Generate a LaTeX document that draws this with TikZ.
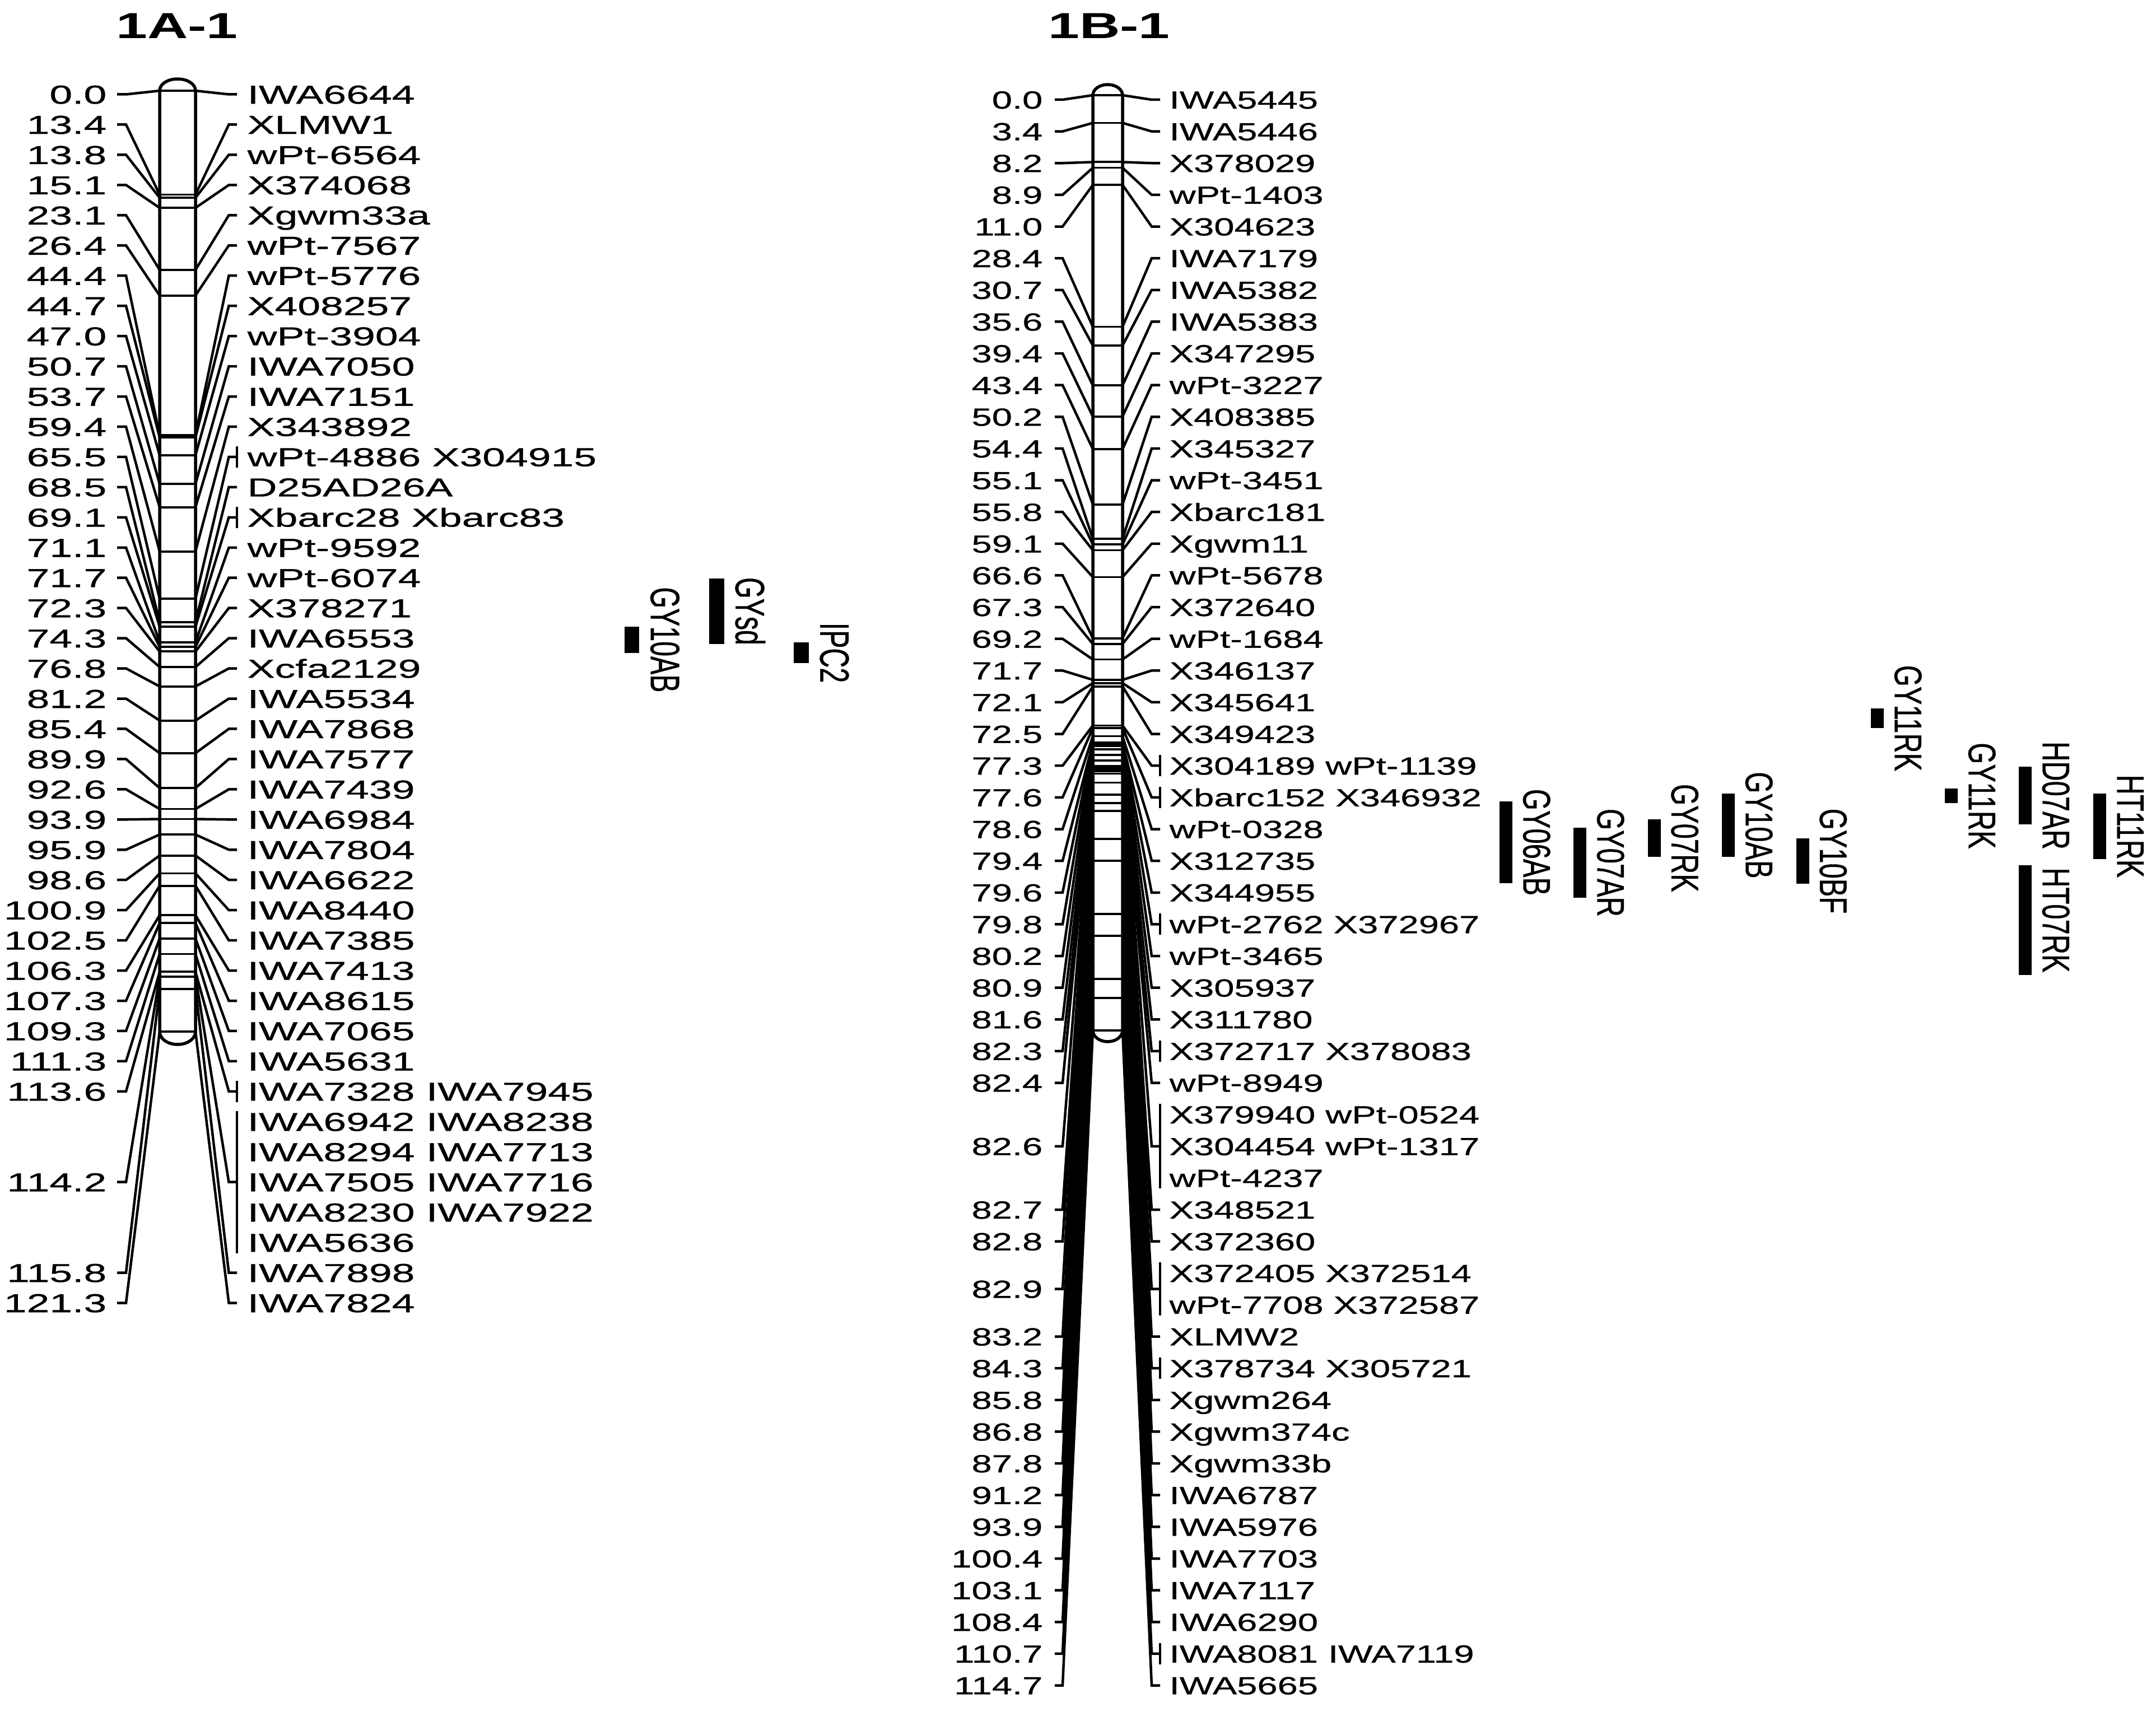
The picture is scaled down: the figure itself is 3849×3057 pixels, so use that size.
\documentclass[tikz,border=0pt]{standalone}
\usepackage{fontspec}
\setmainfont{Liberation Sans}
\newfontfamily\mapfontA[FakeStretch=1.58, FakeBold=0.7]{Liberation Sans}
\newfontfamily\mapfontB[FakeStretch=1.47, FakeBold=0.7]{Liberation Sans}
\newfontfamily\titlefont[FakeStretch=1.55]{Liberation Sans}
\newfontfamily\qtlfontA[FakeStretch=0.658, FakeBold=0.6]{Liberation Sans}
\newfontfamily\qtlfontB[FakeStretch=0.71, FakeBold=0.6]{Liberation Sans}

\tikzset{
  chrom/.style={line width=0.55mm},
  tickline/.style={line width=0.38mm},
  link/.style={line width=0.45mm},
  posA/.style={anchor=base east, inner sep=0pt, font=\mapfontA\fontsize{13.2}{13.2}\selectfont},
  markA/.style={anchor=base west, inner sep=0pt, font=\mapfontA\fontsize{13.2}{13.2}\selectfont},
  posB/.style={anchor=base east, inner sep=0pt, font=\mapfontB\fontsize{12.6}{12.6}\selectfont},
  markB/.style={anchor=base west, inner sep=0pt, font=\mapfontB\fontsize{12.6}{12.6}\selectfont},
  maptitle/.style={anchor=base, inner sep=0pt, font=\titlefont\bfseries\fontsize{18.4}{18.4}\selectfont},
  qtlbar/.style={fill=black, inner sep=0pt, outer sep=0pt},
  qtlA/.style={anchor=base, rotate=-90, inner sep=0pt, font=\qtlfontA\fontsize{20.9}{20.9}\selectfont},
  qtlB/.style={anchor=base, rotate=-90, inner sep=0pt, font=\qtlfontB\fontsize{19.6}{19.6}\selectfont},
}

\begin{document}
\begin{tikzpicture}[x=0.1mm, y=-0.1mm]
\fill[white] (0,0) rectangle (3849,3057); % page
\useasboundingbox (0,0) rectangle (3849,3057);

% ---------------- 1A-1 ----------------
\node[maptitle] (a-title) at (316,69) {1A-1};

\foreach \r/\p [count=\i] in {0/0.0, 1/13.4, 2/13.8, 3/15.1, 4/23.1, 5/26.4, 6/44.4, 7/44.7, 8/47.0, 9/50.7,
  10/53.7, 11/59.4, 12/65.5, 13/68.5, 14/69.1, 15/71.1, 16/71.7, 17/72.3, 18/74.3, 19/76.8,
  20/81.2, 21/85.4, 22/89.9, 23/92.6, 24/93.9, 25/95.9, 26/98.6, 27/100.9, 28/102.5, 29/106.3,
  30/107.3, 31/109.3, 32/111.3, 33/113.6, 36/114.2, 39/115.8, 40/121.3}{
  \pgfmathsetmacro{\ry}{168.5+53.95*\r}
  \pgfmathsetmacro{\ty}{162+13.85*\p}
  \coordinate (a-tl-\i) at (285,\ty); % tick, left edge
  \coordinate (a-tr-\i) at (349,\ty); % tick, right edge
  \draw[tickline] (a-tl-\i) -- (a-tr-\i);
  \node[posA] (a-pos-\i) at (191,\ry+16.6) {\p};
  \draw[link] (209,\ry) -- (225,\ry) -- (a-tl-\i); % left link
  \draw[link] (a-tr-\i) -- (408.5,\ry) -- (423,\ry); % right link
}

\draw[chrom] (285,162) .. controls (285,150) and (299.3,141) .. (317,141)
  .. controls (334.7,141) and (349,150) .. (349,162) -- (349,1842)
  .. controls (349,1855) and (334.7,1865) .. (317,1865)
  .. controls (299.3,1865) and (285,1855) .. (285,1842) -- cycle; % chromosome

\foreach \r/\t [count=\i] in {0/IWA6644, 1/XLMW1, 2/wPt-6564, 3/X374068, 4/Xgwm33a, 5/wPt-7567,
  6/wPt-5776, 7/X408257, 8/wPt-3904, 9/IWA7050, 10/IWA7151, 11/X343892, 12/wPt-4886 X304915,
  13/D25AD26A, 14/Xbarc28 Xbarc83, 15/wPt-9592, 16/wPt-6074, 17/X378271, 18/IWA6553,
  19/Xcfa2129, 20/IWA5534, 21/IWA7868, 22/IWA7577, 23/IWA7439, 24/IWA6984, 25/IWA7804,
  26/IWA6622, 27/IWA8440, 28/IWA7385, 29/IWA7413, 30/IWA8615, 31/IWA7065, 32/IWA5631,
  33/IWA7328 IWA7945, 34/IWA6942 IWA8238, 35/IWA8294 IWA7713, 36/IWA7505 IWA7716,
  37/IWA8230 IWA7922, 38/IWA5636, 39/IWA7898, 40/IWA7824}{
  \node[markA] (a-mk-\i) at (441,{168.5+53.95*\r+16.6}) {\t};
}

\foreach \ra/\rb in {12/12, 14/14, 33/33, 34/38}
  \draw[link] (423,{168.5+53.95*\ra-19}) -- (423,{168.5+53.95*\rb+19}); % same position

\foreach \xc/\ya/\yb/\t [count=\i] in {1128/1119/1166/GY10AB, 1279.5/1033/1150/GYsd, 1430.5/1147/1184/IPC2}{
  \node[qtlbar, minimum width=2.65mm, minimum height={(\yb-\ya)*0.1mm}] (a-qtl-\i) at (\xc,{(\ya+\yb)/2}) {};
  \node[qtlA] (a-qtlt-\i) at ([xshift=2.05mm]a-qtl-\i.east) {\t};
}

% ---------------- 1B-1 ----------------
\node[maptitle] (b-title) at (1980,69) {1B-1};

\foreach \r/\p [count=\i] in {0/0.0, 1/3.4, 2/8.2, 3/8.9, 4/11.0, 5/28.4, 6/30.7, 7/35.6, 8/39.4, 9/43.4,
  10/50.2, 11/54.4, 12/55.1, 13/55.8, 14/59.1, 15/66.6, 16/67.3, 17/69.2, 18/71.7, 19/72.1,
  20/72.5, 21/77.3, 22/77.6, 23/78.6, 24/79.4, 25/79.6, 26/79.8, 27/80.2, 28/80.9, 29/81.6,
  30/82.3, 31/82.4, 33/82.6, 35/82.7, 36/82.8, 37.5/82.9, 39/83.2, 40/84.3, 41/85.8, 42/86.8,
  43/87.8, 44/91.2, 45/93.9, 46/100.4, 47/103.1, 48/108.4, 49/110.7, 50/114.7}{
  \pgfmathsetmacro{\ry}{178+56.63*\r}
  \pgfmathsetmacro{\ty}{170+14.56*\p}
  \coordinate (b-tl-\i) at (1951,\ty); % tick, left edge
  \coordinate (b-tr-\i) at (2004,\ty); % tick, right edge
  \draw[tickline] (b-tl-\i) -- (b-tr-\i);
  \node[posB] (b-pos-\i) at (1862,\ry+15.9) {\p};
  \draw[link] (1883,\ry) -- (1897,\ry) -- (b-tl-\i); % left link
  \draw[link] (b-tr-\i) -- (2056,\ry) -- (2071,\ry); % right link
}

\draw[chrom] (1951,170) .. controls (1951,159.5) and (1962.9,151) .. (1977.5,151)
  .. controls (1992.1,151) and (2004,159.5) .. (2004,170) -- (2004,1840)
  .. controls (2004,1851) and (1992.1,1860) .. (1977.5,1860)
  .. controls (1962.9,1860) and (1951,1851) .. (1951,1840) -- cycle; % chromosome

\foreach \r/\t [count=\i] in {0/IWA5445, 1/IWA5446, 2/X378029, 3/wPt-1403, 4/X304623, 5/IWA7179,
  6/IWA5382, 7/IWA5383, 8/X347295, 9/wPt-3227, 10/X408385, 11/X345327, 12/wPt-3451,
  13/Xbarc181, 14/Xgwm11, 15/wPt-5678, 16/X372640, 17/wPt-1684, 18/X346137, 19/X345641,
  20/X349423, 21/X304189 wPt-1139, 22/Xbarc152 X346932, 23/wPt-0328, 24/X312735,
  25/X344955, 26/wPt-2762 X372967, 27/wPt-3465, 28/X305937, 29/X311780,
  30/X372717 X378083, 31/wPt-8949, 32/X379940 wPt-0524, 33/X304454 wPt-1317, 34/wPt-4237,
  35/X348521, 36/X372360, 37/X372405 X372514, 38/wPt-7708 X372587, 39/XLMW2,
  40/X378734 X305721, 41/Xgwm264, 42/Xgwm374c, 43/Xgwm33b, 44/IWA6787, 45/IWA5976,
  46/IWA7703, 47/IWA7117, 48/IWA6290, 49/IWA8081 IWA7119, 50/IWA5665}{
  \node[markB] (b-mk-\i) at (2087,{178+56.63*\r+15.9}) {\t};
}

\foreach \ra/\rb in {21/21, 22/22, 26/26, 30/30, 32/34, 37/38, 40/40, 49/49}
  \draw[link] (2071,{178+56.63*\ra-19}) -- (2071,{178+56.63*\rb+19}); % same position

\foreach \xc/\ya/\yb/\t [count=\i] in {2688.5/1431/1577/GY06AB, 2820.5/1478/1603/GY07AR,
  2953/1463/1530/GY07RK, 3085.5/1417/1530/GY10AB, 3218/1497/1578/GY10BF,
  3351.5/1265/1300/GY11RK, 3483.5/1408/1434/GY11RK, 3615.5/1369/1472/HD07AR,
  3615.5/1545/1741/HT07RK, 3748.5/1417/1534/HT11RK}{
  \node[qtlbar, minimum width=2.3mm, minimum height={(\yb-\ya)*0.1mm}] (b-qtl-\i) at (\xc,{(\ya+\yb)/2}) {};
  \node[qtlB] (b-qtlt-\i) at ([xshift=1.95mm]b-qtl-\i.east) {\t};
}

\end{tikzpicture}
\end{document}
